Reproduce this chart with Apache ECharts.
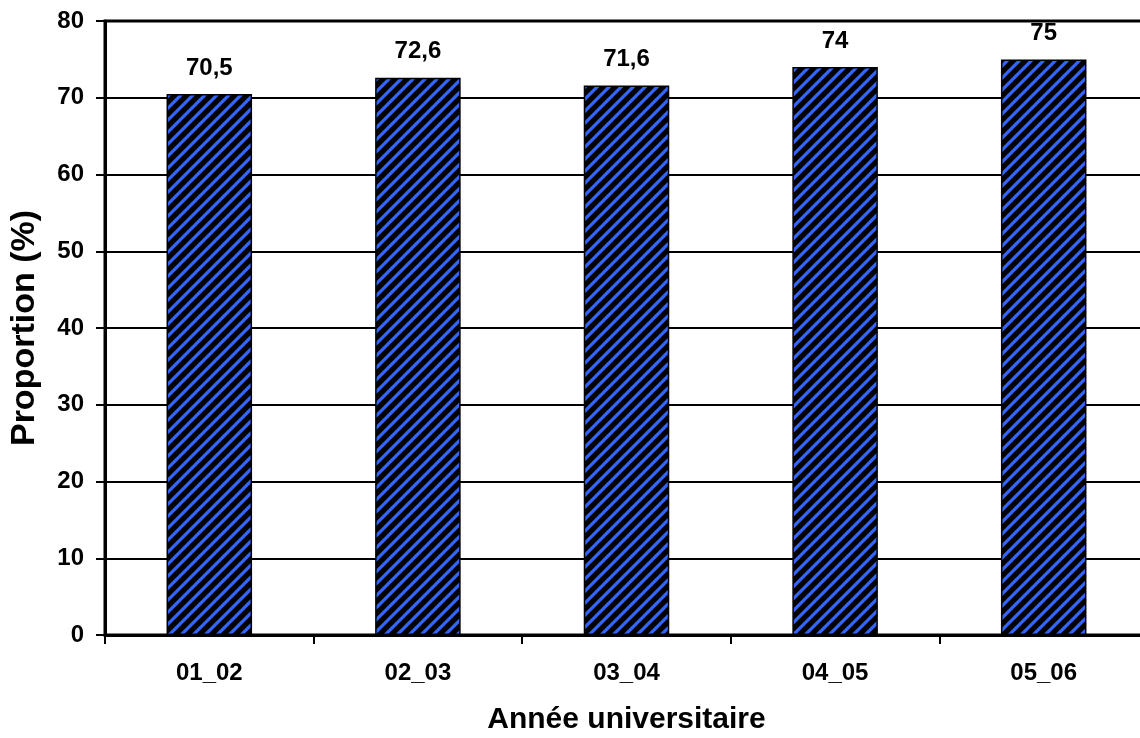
<!DOCTYPE html>
<html>
<head>
<meta charset="utf-8">
<script src="https://cdn.jsdelivr.net/npm/echarts@6/dist/echarts.min.js"></script>
<style>
html,body{margin:0;padding:0;background:#fff;}
#c{width:1140px;height:738px;}
</style>
</head>
<body>
<div id="c"></div>
<script>
var categories = ['01_02', '02_03', '03_04', '04_05', '05_06'];
var values = [70.5, 72.6, 71.6, 74, 75];
var yTicks = [0, 10, 20, 30, 40, 50, 60, 70, 80];

function makePattern() {
  var s = 12;
  var cv = document.createElement('canvas');
  cv.width = s; cv.height = s;
  var ctx = cv.getContext('2d');
  ctx.fillStyle = '#000000';
  ctx.fillRect(0, 0, s, s);
  ctx.strokeStyle = '#3366FF';
  ctx.lineWidth = 3.2;
  ctx.lineCap = 'square';
  for (var k = -1; k <= 1; k++) {
    ctx.beginPath();
    ctx.moveTo(k * s - 2, s + 2);
    ctx.lineTo(k * s + s + 2, -2);
    ctx.stroke();
  }
  return cv;
}

var font = '"Liberation Sans", Arial, sans-serif';
var chart = echarts.init(document.getElementById('c'), null, {renderer: 'canvas'});
chart.setOption({
  animation: false,
  backgroundColor: '#ffffff',
  grid: {
    left: 105, top: 21, width: 1043, height: 614,
    outerBoundsMode: 'none',
    containLabel: false,
    show: true, borderColor: '#000', borderWidth: 3, backgroundColor: 'transparent'
  },
  xAxis: {
    type: 'category',
    data: categories,
    name: 'Année universitaire',
    nameLocation: 'middle',
    nameGap: 70,
    nameTextStyle: {fontFamily: font, fontWeight: 'bold', fontSize: 30, color: '#000'},
    axisLine: {lineStyle: {color: '#000', width: 3}},
    axisTick: {show: true, alignWithLabel: false, length: 9, lineStyle: {color: '#000', width: 2}},
    axisLabel: {fontFamily: font, fontWeight: 'bold', fontSize: 24, color: '#000', margin: 26},
    splitLine: {show: false}
  },
  yAxis: {
    type: 'value',
    min: yTicks[0],
    max: yTicks[yTicks.length - 1],
    interval: 10,
    name: 'Proportion (%)',
    nameLocation: 'middle',
    nameGap: 63,
    nameTextStyle: {fontFamily: font, fontWeight: 'bold', fontSize: 34, color: '#000'},
    axisLine: {show: true, lineStyle: {color: '#000', width: 3}},
    axisTick: {show: true, length: 9, lineStyle: {color: '#000', width: 2}},
    axisLabel: {fontFamily: font, fontWeight: 'bold', fontSize: 24, color: '#000', margin: 21},
    splitLine: {show: true, lineStyle: {color: '#000', width: 2}}
  },
  series: [{
    type: 'bar',
    data: values,
    barWidth: '41%',
    itemStyle: {
      color: {image: makePattern(), repeat: 'repeat'},
      borderColor: '#000',
      borderWidth: 1.5
    },
    label: {
      show: true,
      position: 'top',
      distance: 14,
      fontFamily: font, fontWeight: 'bold', fontSize: 24, color: '#000',
      formatter: function (p) { return String(p.value).replace('.', ','); }
    }
  }]
});
</script>
</body>
</html>
